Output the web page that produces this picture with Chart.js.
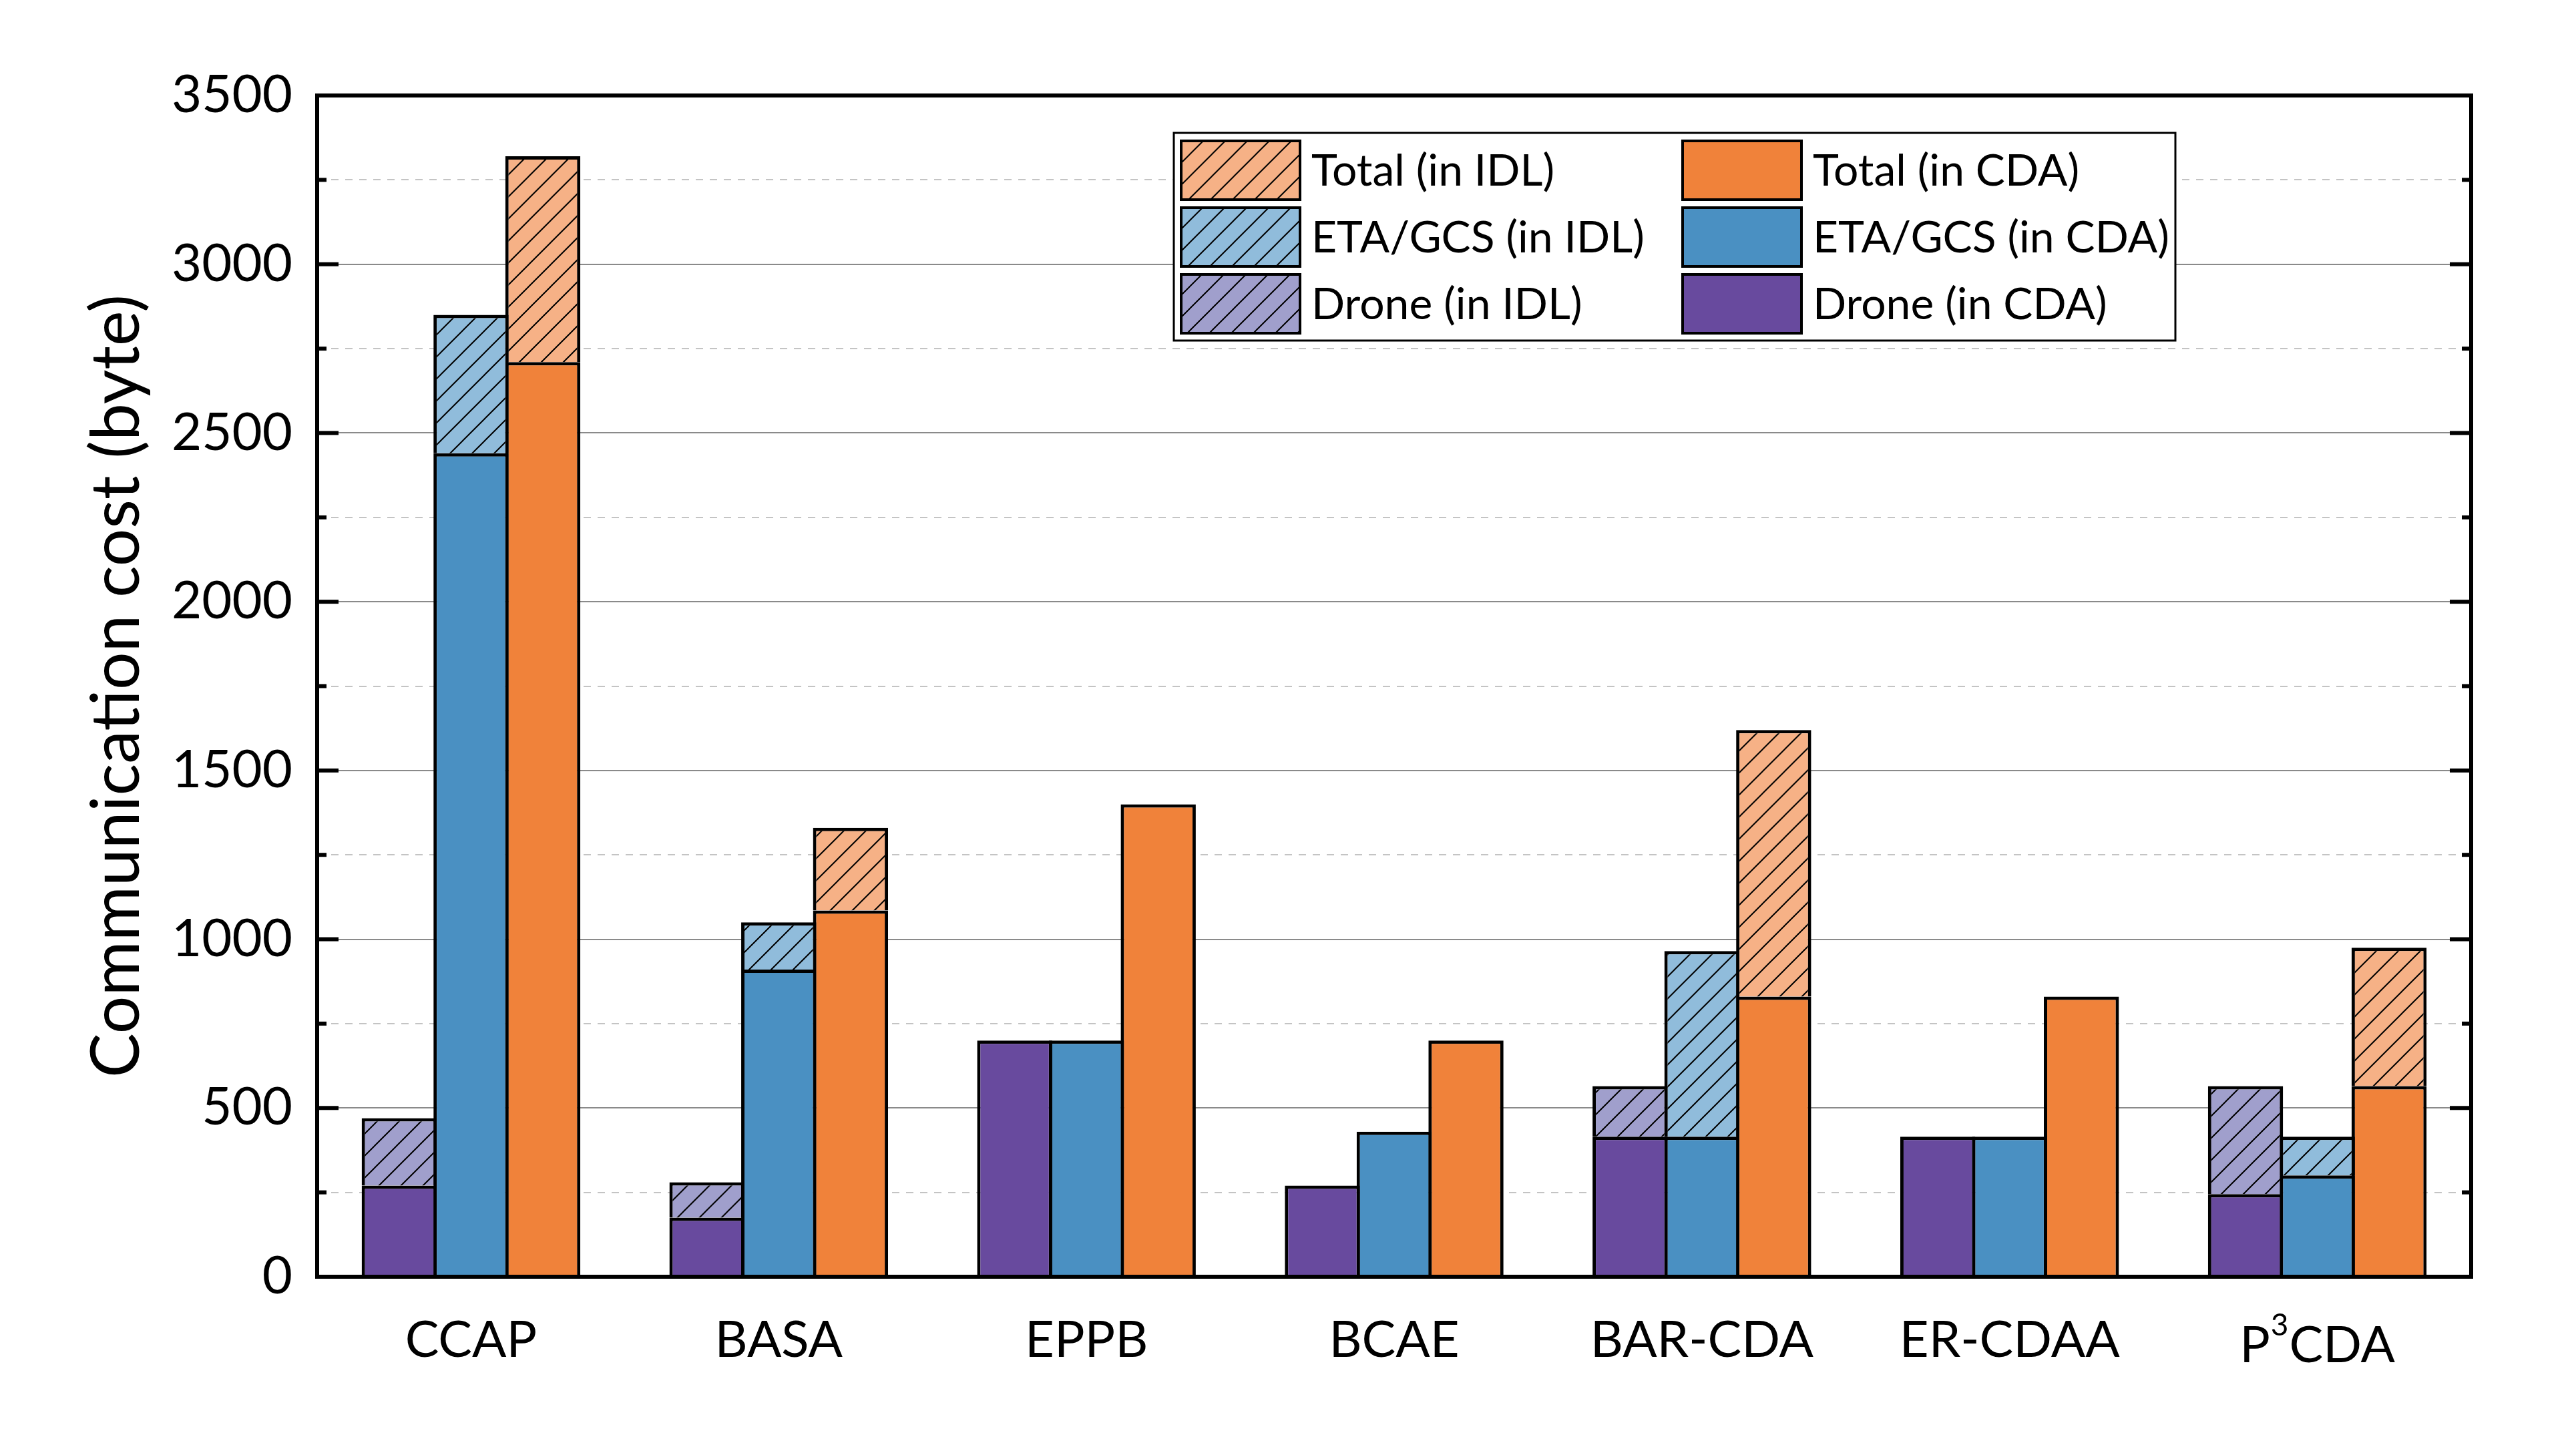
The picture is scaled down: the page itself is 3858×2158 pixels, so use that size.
<!DOCTYPE html>
<html>
<head>
<meta charset="utf-8">
<script src="https://cdn.jsdelivr.net/npm/chart.js@4.4.1/dist/chart.umd.min.js"></script>
<style>
  html, body { margin: 0; padding: 0; background: #ffffff; }
  #wrap { width: 3858px; height: 2158px; position: relative; }
</style>
</head>
<body>
<div id="wrap"><canvas id="c"></canvas></div>
<script>
// ---------------- data ----------------
const categories = ['CCAP', 'BASA', 'EPPB', 'BCAE', 'BAR-CDA', 'ER-CDAA', 'P³CDA'];
const droneCDA = [270, 175, 700, 270, 415, 415, 245];
const droneIDL = [470, 280, null, null, 565, null, 565];
const etaCDA   = [2440, 910, 700, 430, 415, 415, 300];
const etaIDL   = [2850, 1050, null, null, 965, null, 415];
const totalCDA = [2710, 1085, 1400, 700, 830, 830, 565];
const totalIDL = [3320, 1330, null, null, 1620, null, 975];
const yTicks = [0, 500, 1000, 1500, 2000, 2500, 3000, 3500];

// ---------------- styles ----------------
const FONT = 'Lato';
const colDroneCDA = '#684a9e';
const colEtaCDA = '#4a90c2';
const colTotalCDA = '#f0823a';
const colDroneIDL = '#a09fcc';
const colEtaIDL = '#90bcdb';
const colTotalIDL = '#f6b186';
const X_FONT = 76;
const X_PAD = 50;

function hatch(bg) {
  const s = 33;
  const c = document.createElement('canvas');
  c.width = s; c.height = s;
  const g = c.getContext('2d');
  g.fillStyle = bg; g.fillRect(0, 0, s, s);
  g.strokeStyle = '#000'; g.lineWidth = 2;
  g.beginPath();
  g.moveTo(-2, s + 2); g.lineTo(s + 2, -2);
  g.moveTo(-2, 2); g.lineTo(2, -2);
  g.moveTo(s - 2, s + 2); g.lineTo(s + 2, s - 2);
  g.stroke();
  return g.createPattern(c, 'repeat');
}

function floatPairs(base, top) {
  return base.map((b, i) => (top[i] == null ? null : [b, top[i]]));
}

const barCommon = {
  borderColor: '#000',
  borderWidth: 5,
  borderSkipped: 'start',
  categoryPercentage: 0.70,
  barPercentage: 1.046
};

const datasets = [
  Object.assign({ label: 'Drone (in CDA)', data: droneCDA, backgroundColor: colDroneCDA, stack: 'drone' }, barCommon),
  Object.assign({ label: 'Drone (in IDL)', data: floatPairs(droneCDA, droneIDL), backgroundColor: hatch(colDroneIDL), stack: 'drone' }, barCommon),
  Object.assign({ label: 'ETA/GCS (in CDA)', data: etaCDA, backgroundColor: colEtaCDA, stack: 'eta' }, barCommon),
  Object.assign({ label: 'ETA/GCS (in IDL)', data: floatPairs(etaCDA, etaIDL), backgroundColor: hatch(colEtaIDL), stack: 'eta' }, barCommon),
  Object.assign({ label: 'Total (in CDA)', data: totalCDA, backgroundColor: colTotalCDA, stack: 'total' }, barCommon),
  Object.assign({ label: 'Total (in IDL)', data: floatPairs(totalCDA, totalIDL), backgroundColor: hatch(colTotalIDL), stack: 'total' }, barCommon)
];

// legend layout: column 1 = IDL (hatched), column 2 = CDA (solid)
const legendRows = [
  ['Total (in IDL)', 'Total (in CDA)'],
  ['ETA/GCS (in IDL)', 'ETA/GCS (in CDA)'],
  ['Drone (in IDL)', 'Drone (in CDA)']
];

const framePlugin = {
  id: 'frame',
  beforeDatasetsDraw(chart) {
    const { ctx, chartArea: a, scales: { y } } = chart;
    ctx.save();
    y.ticks.forEach(t => {
      const v = t.value;
      if (v <= 0 || v >= 3500) return;
      const py = Math.round(y.getPixelForValue(v));
      if (v % 500 === 0) {
        ctx.setLineDash([]); ctx.strokeStyle = '#8a8a8a'; ctx.lineWidth = 2;
      } else {
        ctx.setLineDash([11, 10]); ctx.strokeStyle = '#c4c4c4'; ctx.lineWidth = 2;
      }
      ctx.beginPath(); ctx.moveTo(a.left, py); ctx.lineTo(a.right, py); ctx.stroke();
    });
    ctx.restore();
  },
  afterDatasetsDraw(chart) {
    const { ctx, chartArea: a, scales: { x, y } } = chart;
    ctx.save();
    // frame
    ctx.setLineDash([]);
    ctx.strokeStyle = '#000';
    ctx.lineWidth = 6;
    ctx.strokeRect(a.left, a.top, a.right - a.left, a.bottom - a.top);
    // inward ticks on left and right
    ctx.fillStyle = '#000';
    y.ticks.forEach(t => {
      const v = t.value;
      const py = y.getPixelForValue(v);
      const len = (v % 500 === 0) ? 32 : 14;
      ctx.fillRect(a.left, py - 3, len, 6);
      ctx.fillRect(a.right - len, py - 3, len, 6);
    });
    // category labels containing a superscript digit
    categories.forEach((lab, i) => {
      if (lab.indexOf('³') < 0) return;
      const parts = lab.split('³');
      const cx = x.getPixelForValue(i);
      const mainFont = X_FONT + 'px ' + FONT;
      const supFont = Math.round(X_FONT * 0.6) + 'px ' + FONT;
      ctx.font = mainFont;
      ctx.textBaseline = 'middle';
      const mid = x.top + X_PAD + X_FONT * 1.2 / 2 + 7;
      const base = mid + ctx.measureText('CDA').actualBoundingBoxDescent;
      const w0 = ctx.measureText(parts[0]).width;
      const w2 = ctx.measureText(parts[1]).width;
      ctx.font = supFont;
      const w1 = ctx.measureText('3').width + 2;
      let sx = cx - (w0 + w1 + w2) / 2;
      ctx.textBaseline = 'alphabetic';
      ctx.textAlign = 'left';
      ctx.fillStyle = '#000';
      ctx.font = mainFont;
      ctx.fillText(parts[0], sx, base);
      ctx.font = supFont;
      ctx.fillText('3', sx + w0 + 1, base - 40);
      ctx.font = mainFont;
      ctx.fillText(parts[1], sx + w0 + w1, base);
    });
    // legend
    const byLabel = {};
    chart.data.datasets.forEach(d => { byLabel[d.label] = d; });
    const bx = 1758, by = 199, bw = 1500, bh = 311;
    ctx.fillStyle = '#fff';
    ctx.fillRect(bx, by, bw, bh);
    ctx.lineWidth = 3;
    ctx.strokeStyle = '#000';
    ctx.strokeRect(bx, by, bw, bh);
    const colX = [1769, 2520];
    const sw = 178, sh = 88;
    ctx.font = '66px ' + FONT;
    ctx.textBaseline = 'middle';
    ctx.textAlign = 'left';
    legendRows.forEach((row, r) => {
      const sy = 211 + r * 100;
      row.forEach((lab, cI) => {
        const d = byLabel[lab];
        const sx = colX[cI];
        ctx.fillStyle = d.backgroundColor;
        ctx.fillRect(sx, sy, sw, sh);
        ctx.lineWidth = 4;
        ctx.strokeStyle = '#000';
        ctx.strokeRect(sx, sy, sw, sh);
        ctx.fillStyle = '#000';
        ctx.fillText(lab, sx + sw + 17, sy + sh / 2 + 2);
      });
    });
    ctx.restore();
  }
};

Chart.defaults.font.family = FONT;
Chart.defaults.color = '#000';

new Chart(document.getElementById('c'), {
  type: 'bar',
  data: { labels: categories, datasets: datasets },
  options: {
    responsive: true,
    maintainAspectRatio: false,
    devicePixelRatio: 1,
    animation: false,
    layout: { padding: { left: 0, right: 157, top: 143, bottom: 0 } },
    plugins: { legend: { display: false }, tooltip: { enabled: false } },
    scales: {
      x: {
        stacked: true,
        grid: { display: false, drawTicks: false },
        border: { display: false },
        ticks: {
          font: { size: X_FONT, family: FONT },
          color: '#000',
          padding: X_PAD,
          maxRotation: 0,
          autoSkip: false,
          callback: function (v, i) {
            const lab = categories[i];
            return lab.indexOf('³') >= 0 ? '' : lab;
          }
        },
        afterFit(scale) { scale.height = 246; }
      },
      y: {
        stacked: false,
        min: 0,
        max: 3500,
        grid: { display: false, drawTicks: false },
        border: { display: false },
        ticks: {
          stepSize: 250,
          font: { size: 78, family: FONT },
          color: '#000',
          padding: 37,
          autoSkip: false,
          callback: (v) => (yTicks.includes(v) ? String(v) : '')
        },
        title: {
          display: true,
          text: 'Communication cost (byte)',
          font: { size: 100, family: FONT },
          color: '#000',
          padding: { top: 116, bottom: 0 }
        },
        afterFit(scale) { scale.width = 475; }
      }
    }
  },
  plugins: [framePlugin]
});
</script>
</body>
</html>
